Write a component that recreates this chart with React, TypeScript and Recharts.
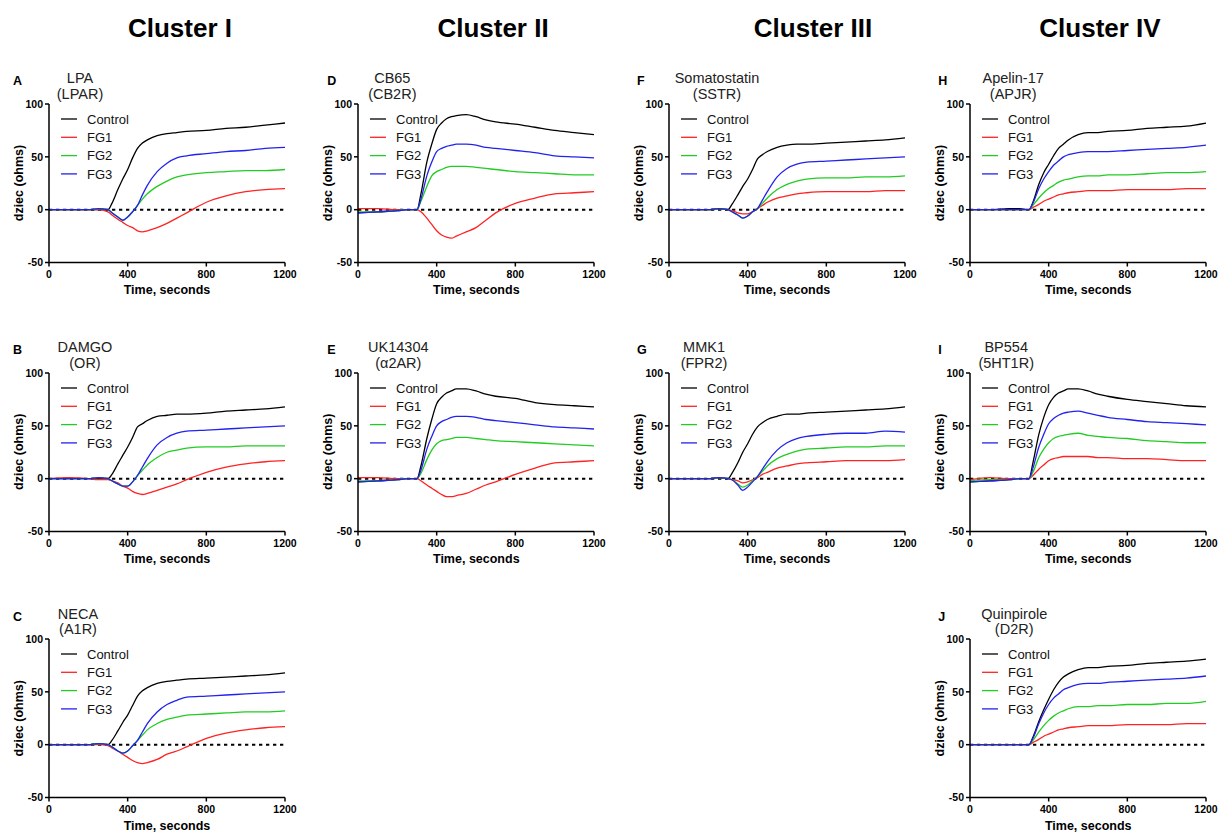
import React from 'react';
import { LineChart, Line, XAxis, YAxis, ReferenceLine, Legend } from 'recharts';

// time points (seconds)
const TIME = [0, 100, 200, 250, 300, 320, 350, 375, 400, 425, 450, 475, 500, 550, 600, 650, 700, 800, 900, 1000, 1100, 1200];

// A: LPA (LPAR)
const A_CTRL = [0, 0, 0, 0, 0, 6, 19, 29, 38, 49, 58, 63, 66, 70, 72, 73, 74, 75, 77, 78, 80, 82];
const A_FG1 = [0, 0, 0, 0, -2, -5, -9, -12, -15, -17, -20, -21, -20, -17, -13, -8, -3, 7, 13, 17, 19, 20];
const A_FG2 = [0, 0, 0, 1, 0, -3, -7, -10, -7, -2, 4, 10, 15, 22, 27, 31, 33, 35, 36, 37, 37, 38];
const A_FG3 = [0, 0, 0, 1, 0, -3, -7, -10, -7, -2, 4, 14, 23, 36, 44, 49, 51, 53, 55, 56, 58, 59];
// B: DAMGO (OR)
const B_CTRL = [0, 0, 0, 0, 0, 4, 14, 22, 30, 39, 49, 52, 55, 59, 60, 61, 61, 62, 64, 65, 66, 68];
const B_FG1 = [0, 1, 0, -1, -1, -2, -4, -7, -9, -12, -14, -15, -14, -11, -8, -5, -1, 6, 11, 14, 16, 17];
const B_FG2 = [0, 0, 0, 1, 0, -2, -5, -7, -7, -3, 3, 8, 13, 20, 25, 27, 29, 30, 30, 31, 31, 31];
const B_FG3 = [0, 0, 0, 1, 0, -2, -5, -7, -7, -3, 3, 11, 19, 32, 39, 43, 45, 46, 47, 48, 49, 50];
// C: NECA (A1R)
const C_CTRL = [0, 0, 0, 1, 0, 4, 13, 21, 28, 37, 46, 51, 54, 58, 60, 61, 62, 63, 64, 65, 66, 68];
const C_FG1 = [0, 0, 0, 0, -1, -3, -6, -9, -12, -15, -17, -18, -17, -14, -9, -6, -2, 6, 11, 14, 16, 17];
const C_FG2 = [0, 0, 0, 1, 0, -2, -6, -8, -6, -1, 4, 9, 14, 20, 24, 26, 28, 29, 30, 31, 31, 32];
const C_FG3 = [0, 0, 0, 1, 0, -2, -6, -8, -6, -1, 4, 12, 20, 31, 38, 42, 45, 46, 47, 48, 49, 50];
// D: CB65 (CB2R)
const D_CTRL = [-3, -2, -1, 0, 0, 15, 45, 62, 76, 82, 86, 88, 89, 90, 88, 85, 83, 81, 78, 75, 73, 71];
const D_FG1 = [1, 1, 0, 0, 0, -2, -8, -14, -20, -24, -26, -27, -25, -21, -17, -10, -3, 6, 11, 15, 16, 17];
const D_FG2 = [-2, -2, -1, 0, 0, 8, 22, 32, 36, 38, 40, 41, 41, 41, 40, 39, 38, 36, 35, 34, 33, 33];
const D_FG3 = [-3, -2, -1, 0, 0, 10, 32, 45, 55, 58, 60, 61, 62, 62, 61, 59, 58, 56, 54, 51, 50, 49];
// E: UK14304 (α2AR)
const E_CTRL = [-3, -2, -1, 0, 0, 12, 38, 56, 71, 77, 81, 83, 85, 85, 83, 80, 78, 76, 72, 70, 69, 68];
const E_FG1 = [1, 1, 0, 0, 0, -2, -6, -9, -12, -15, -17, -17, -16, -14, -10, -6, -3, 4, 10, 15, 16, 17];
const E_FG2 = [-2, -2, -1, 0, 0, 5, 18, 27, 33, 36, 37, 38, 39, 39, 38, 37, 36, 35, 34, 33, 32, 31];
const E_FG3 = [-3, -2, -1, 0, 0, 8, 28, 40, 50, 54, 56, 58, 59, 59, 58, 56, 55, 53, 51, 49, 48, 47];
// F: Somatostatin (SSTR)
const F_CTRL = [0, 0, 0, 1, 0, 5, 14, 22, 29, 38, 48, 52, 55, 59, 61, 62, 62, 63, 64, 65, 66, 68];
const F_FG1 = [0, 0, 0, 1, 0, -1, -3, -4, -4, -2, 1, 4, 7, 11, 13, 15, 16, 17, 17, 17, 18, 18];
const F_FG2 = [0, 0, 0, 1, 0, -2, -5, -8, -6, -2, 1, 6, 11, 19, 24, 27, 29, 30, 30, 31, 31, 32];
const F_FG3 = [0, 0, 0, 1, 0, -2, -5, -8, -6, -2, 1, 9, 17, 31, 39, 43, 45, 46, 47, 48, 49, 50];
// G: MMK1 (FPR2)
const G_CTRL = [0, 0, 0, 1, 0, 5, 15, 25, 33, 42, 49, 53, 56, 59, 61, 61, 62, 63, 64, 65, 66, 68];
const G_FG1 = [0, 0, 0, 1, 0, -1, -2, -4, -3, -1, 1, 4, 6, 10, 12, 14, 15, 16, 17, 17, 17, 18];
const G_FG2 = [0, 0, 0, 1, 0, -1, -5, -8, -6, -2, 2, 7, 12, 19, 23, 26, 28, 29, 30, 30, 31, 31];
const G_FG3 = [0, 0, 0, 1, 0, -1, -6, -11, -8, -3, 2, 9, 16, 27, 34, 38, 40, 42, 43, 43, 45, 44];
// H: Apelin-17 (APJR)
const H_CTRL = [0, 0, 1, 1, 0, 7, 24, 35, 43, 51, 58, 62, 66, 71, 73, 73, 74, 75, 77, 78, 79, 82];
const H_FG1 = [0, 0, 0, 0, 0, 2, 5, 8, 10, 12, 14, 15, 16, 17, 18, 18, 18, 19, 19, 19, 20, 20];
const H_FG2 = [0, 0, 0, 0, 0, 4, 11, 16, 20, 23, 26, 28, 29, 31, 32, 32, 33, 33, 34, 35, 35, 36];
const H_FG3 = [0, 0, 0, 0, 0, 6, 20, 29, 36, 42, 46, 50, 52, 54, 55, 55, 55, 56, 57, 58, 59, 61];
// I: BP554 (5HT1R)
const I_CTRL = [-3, -2, -1, 0, 0, 15, 42, 58, 70, 77, 81, 83, 85, 85, 83, 80, 78, 75, 73, 71, 69, 68];
const I_FG1 = [-1, 1, 0, 0, 0, 3, 9, 13, 17, 19, 20, 21, 21, 21, 21, 20, 20, 19, 19, 18, 17, 17];
const I_FG2 = [-2, -1, -1, 0, 0, 6, 20, 28, 34, 38, 40, 41, 42, 43, 41, 40, 39, 38, 36, 35, 34, 34];
const I_FG3 = [-3, -2, -1, 0, 0, 10, 30, 42, 52, 57, 60, 62, 63, 64, 62, 60, 58, 56, 54, 53, 52, 51];
// J: Quinpirole (D2R)
const J_CTRL = [0, 0, 0, 0, 0, 7, 22, 33, 43, 52, 59, 64, 67, 71, 73, 73, 74, 75, 77, 78, 79, 81];
const J_FG1 = [0, 0, 0, 0, 0, 2, 5, 8, 10, 12, 14, 15, 16, 17, 18, 18, 18, 19, 19, 19, 20, 20];
const J_FG2 = [0, 0, 0, 0, 0, 4, 12, 18, 23, 27, 30, 32, 34, 36, 36, 37, 37, 38, 38, 39, 39, 41];
const J_FG3 = [0, 0, 0, 0, 0, 6, 20, 30, 38, 44, 48, 52, 54, 57, 58, 58, 59, 60, 61, 62, 63, 65];

const X_TICKS = [0, 400, 800, 1200];
const Y_TICKS = [-50, 0, 50, 100];
const SERIES_NAMES = ['Control', 'FG1', 'FG2', 'FG3'];
const SERIES_COLORS = ['#000000', '#ff2222', '#22cc22', '#2222ee'];
const CLUSTER_TITLES = ['Cluster I', 'Cluster II', 'Cluster III', 'Cluster IV'];
const X_TITLE = 'Time, seconds';
const Y_TITLE = 'dziec (ohms)';

const PANELS = [
  { letter: 'A', name: 'LPA', receptor: '(LPAR)', col: 0, row: 0, nameDx: 31, series: [A_CTRL, A_FG1, A_FG2, A_FG3] },
  { letter: 'B', name: 'DAMGO', receptor: '(OR)', col: 0, row: 1, nameDx: 36, series: [B_CTRL, B_FG1, B_FG2, B_FG3] },
  { letter: 'C', name: 'NECA', receptor: '(A1R)', col: 0, row: 2, nameDx: 29, series: [C_CTRL, C_FG1, C_FG2, C_FG3] },
  { letter: 'D', name: 'CB65', receptor: '(CB2R)', col: 1, row: 0, nameDx: 34, series: [D_CTRL, D_FG1, D_FG2, D_FG3] },
  { letter: 'E', name: 'UK14304', receptor: '(α2AR)', col: 1, row: 1, nameDx: 40, series: [E_CTRL, E_FG1, E_FG2, E_FG3] },
  { letter: 'F', name: 'Somatostatin', receptor: '(SSTR)', col: 2, row: 0, nameDx: 48, series: [F_CTRL, F_FG1, F_FG2, F_FG3] },
  { letter: 'G', name: 'MMK1', receptor: '(FPR2)', col: 2, row: 1, nameDx: 35, series: [G_CTRL, G_FG1, G_FG2, G_FG3] },
  { letter: 'H', name: 'Apelin-17', receptor: '(APJR)', col: 3, row: 0, nameDx: 43, series: [H_CTRL, H_FG1, H_FG2, H_FG3] },
  { letter: 'I', name: 'BP554', receptor: '(5HT1R)', col: 3, row: 1, nameDx: 36, series: [I_CTRL, I_FG1, I_FG2, I_FG3] },
  { letter: 'J', name: 'Quinpirole', receptor: '(D2R)', col: 3, row: 2, nameDx: 44, series: [J_CTRL, J_FG1, J_FG2, J_FG3] },
];

// layout
const COL_X = [49, 358.3, 669, 970.2];
const LETTER_DX = [-36, -31, -32, -32];
const CLUSTER_CX = [180, 493, 813, 1100];
const ROW_Y = [103.8, 372.5, 639];
const PW = 236;
const PH = 158.5;
const FONT = '"Liberation Sans", Arial, Helvetica, sans-serif';

const renderLegend = () => (
  <svg width={90} height={80} style={{ display: 'block', overflow: 'visible' }}>
    {SERIES_NAMES.map((n, k) => {
      const y = 9 + k * 18.3;
      return (
        <g key={n}>
          <line x1={0} x2={16} y1={y} y2={y} stroke={SERIES_COLORS[k]} strokeWidth={1.3} />
          <text x={26} y={y + 4.6} fontSize={13} fill="#111" fontFamily={FONT}>{n}</text>
        </g>
      );
    })}
  </svg>
);

const tickStyle = { fill: '#000', fontSize: 10.5, fontWeight: 'bold', fontFamily: FONT };

function Panel({ p }: { p: any }) {
  const left = COL_X[p.col];
  const top = ROW_Y[p.row];
  const data = TIME.map((t, i) => ({
    t,
    s0: p.series[0][i],
    s1: p.series[1][i],
    s2: p.series[2][i],
    s3: p.series[3][i],
  }));
  return (
    <div style={{ position: 'absolute', left: left - 50, top: top - 10 }}>
      <LineChart width={PW + 70} height={PH + 50} data={data} margin={{ top: 10, right: 20, bottom: 0, left: 0 }}>
        <XAxis
          dataKey="t"
          type="number"
          domain={[0, 1200]}
          ticks={X_TICKS}
          interval={0}
          height={40}
          tickSize={4}
          tickMargin={4}
          tick={tickStyle}
          axisLine={{ stroke: '#000', strokeWidth: 1.5 }}
          tickLine={{ stroke: '#000', strokeWidth: 1.5 }}
        />
        <YAxis
          type="number"
          domain={[-50, 100]}
          ticks={Y_TICKS}
          interval={0}
          width={50}
          tickSize={4}
          tickMargin={2}
          tick={tickStyle}
          axisLine={{ stroke: '#000', strokeWidth: 1.5 }}
          tickLine={{ stroke: '#000', strokeWidth: 1.5 }}
        />
        <ReferenceLine y={0} stroke="#000" strokeDasharray="3.3 3.7" strokeWidth={2} />
        {SERIES_NAMES.map((n, k) => (
          <Line
            key={n}
            dataKey={`s${k}`}
            name={n}
            type="monotone"
            stroke={SERIES_COLORS[k]}
            strokeWidth={1.3}
            dot={false}
            activeDot={false}
            isAnimationActive={false}
          />
        ))}
        <Legend
          layout="vertical"
          align="center"
          verticalAlign="middle"
          content={renderLegend}
          wrapperStyle={{ left: 62, top: 16, width: 90, height: 80 }}
        />
      </LineChart>
    </div>
  );
}

export default function App() {
  return (
    <div style={{ position: 'absolute', left: 0, top: 0, width: 1230, height: 834, background: '#fff', fontFamily: FONT }}>
      <svg width={1230} height={834} style={{ position: 'absolute', left: 0, top: 0 }}>
        {CLUSTER_TITLES.map((c, i) => (
          <text key={c} x={CLUSTER_CX[i]} y={37} textAnchor="middle" fontSize={26} fontWeight="bold" fill="#000" fontFamily={FONT}>
            {c}
          </text>
        ))}
        {PANELS.map((p) => {
          const left = COL_X[p.col];
          const top = ROW_Y[p.row];
          return (
            <g key={p.letter}>
              <text x={left + LETTER_DX[p.col]} y={top - 18.5} fontSize={12.5} fontWeight="bold" fill="#000" fontFamily={FONT}>{p.letter}</text>
              <text x={left + p.nameDx} y={top - 20.5} textAnchor="middle" fontSize={14.5} fill="#222" fontFamily={FONT}>{p.name}</text>
              <text x={left + p.nameDx} y={top - 5} textAnchor="middle" fontSize={14.5} fill="#222" fontFamily={FONT}>{p.receptor}</text>
              <text
                x={left - 30}
                y={top + PH / 2}
                textAnchor="middle"
                dominantBaseline="central"
                transform={`rotate(-90 ${left - 30} ${top + PH / 2})`}
                fontSize={12.5}
                fontWeight="bold"
                fill="#000"
                fontFamily={FONT}
              >
                {Y_TITLE}
              </text>
              <text x={left + PW / 2} y={top + PH + 32} textAnchor="middle" fontSize={12.5} fontWeight="bold" fill="#000" fontFamily={FONT}>
                {X_TITLE}
              </text>
            </g>
          );
        })}
      </svg>
      {PANELS.map((p) => (
        <Panel key={p.letter} p={p} />
      ))}
    </div>
  );
}
